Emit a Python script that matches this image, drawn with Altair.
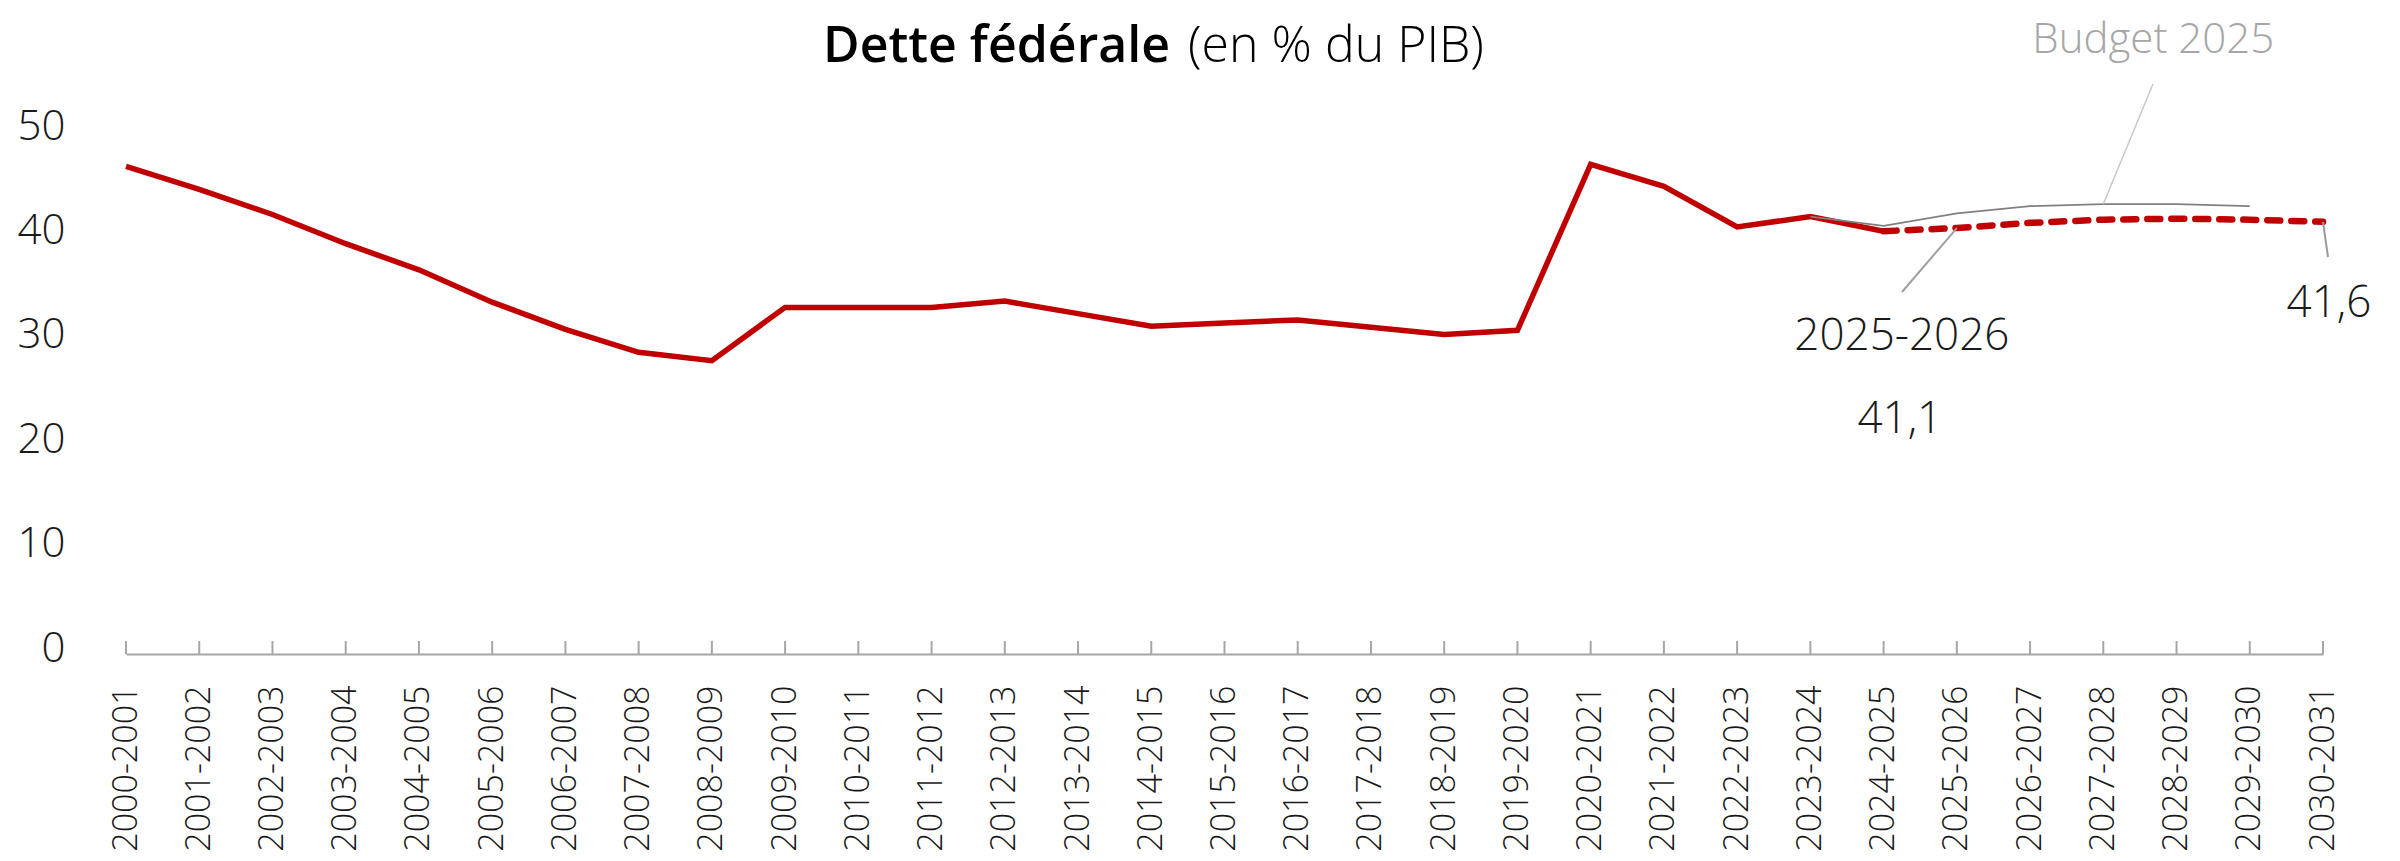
import altair as alt
import pandas as pd

categories = ["2000-2001", "2001-2002", "2002-2003", "2003-2004", "2004-2005",
              "2005-2006", "2006-2007", "2007-2008", "2008-2009", "2009-2010",
              "2010-2011", "2011-2012", "2012-2013", "2013-2014", "2014-2015",
              "2015-2016", "2016-2017", "2017-2018", "2018-2019", "2019-2020",
              "2020-2021", "2021-2022", "2022-2023", "2023-2024", "2024-2025",
              "2025-2026", "2026-2027", "2027-2028", "2028-2029", "2029-2030",
              "2030-2031"]

actual_years = categories[0:25]
actual_values = [46.7, 44.5, 42.1, 39.3, 36.8, 33.7, 31.1, 28.9, 28.1, 33.2,
                 33.2, 33.2, 33.8, 32.6, 31.4, 31.7, 32.0, 31.3, 30.6, 31.0,
                 46.9, 44.8, 40.9, 41.9, 40.5]

proj_years = categories[24:31]
proj_values = [40.5, 40.8, 41.3, 41.6, 41.7, 41.6, 41.4]

budget_years = categories[23:30]
budget_values = [41.9, 41.0, 42.2, 42.9, 43.1, 43.1, 42.9]

y_ticks = [0, 10, 20, 30, 40, 50]

FONT = "Open Sans"
RED = "#C00000"
W, H = 2197, 522

df_actual = pd.DataFrame({"cat": actual_years, "val": actual_values})
df_proj = pd.DataFrame({"cat": proj_years, "val": proj_values})
df_budget = pd.DataFrame({"cat": budget_years, "val": budget_values})
df_cats = pd.DataFrame({"cat": categories})

xs = alt.X("cat:N", sort=categories,
           scale=alt.Scale(type="point", padding=0),
           axis=alt.Axis(title=None, labelAngle=-90, labelFontSize=34,
                         labelFont=FONT, labelColor="#1a1a1a", labelPadding=31,
                         ticks=False, domainColor="#a6a6a6", domainWidth=2,
                         labelFontWeight=300))
ys = alt.Y("val:Q", scale=alt.Scale(domain=[0, 50], nice=False),
           axis=alt.Axis(title=None, values=y_ticks, grid=False, domain=False,
                         ticks=False, labelFontSize=42, labelFont=FONT,
                         labelColor="#1a1a1a", labelPadding=61, labelOffset=-6,
                         labelFontWeight=300))

ticks = alt.Chart(df_cats).mark_rule(color="#a6a6a6", strokeWidth=2).encode(
    x=alt.X("cat:N", sort=categories), y=alt.value(H), y2=alt.value(H - 13))

line_actual = alt.Chart(df_actual).mark_line(
    color=RED, strokeWidth=5.5, strokeJoin="miter").encode(x=xs, y=ys)

line_proj = alt.Chart(df_proj).mark_line(
    color=RED, strokeWidth=6.5, strokeDash=[13, 11], strokeCap="round").encode(
    x=alt.X("cat:N", sort=categories), y="val:Q")

line_budget = alt.Chart(df_budget).mark_line(
    color="#808080", strokeWidth=1.8).encode(
    x=alt.X("cat:N", sort=categories), y="val:Q")

# annotations anchored on data points
ann_budget = pd.DataFrame({"cat": ["2027-2028"], "val": [43.1], "t": ["Budget 2025"]})
ann_2526 = pd.DataFrame({"cat": ["2025-2026"], "val": [40.8], "t": ["2025-2026"]})
ann_411 = pd.DataFrame({"cat": ["2025-2026"], "val": [40.8], "t": ["41,1"]})
ann_416 = pd.DataFrame({"cat": ["2030-2031"], "val": [41.4], "t": ["41,6"]})

enc = dict(x=alt.X("cat:N", sort=categories), y="val:Q", text="t:N")

leader_budget = alt.Chart(ann_budget).mark_rule(color="#c8c8c8", strokeWidth=1.5).encode(
    x=alt.X("cat:N", sort=categories), y="val:Q", x2=alt.value(2027), y2=alt.value(-48))
leader_2526 = alt.Chart(ann_2526).mark_rule(color="#a0a0a0", strokeWidth=2).encode(
    x=alt.X("cat:N", sort=categories), y="val:Q", x2=alt.value(1776), y2=alt.value(160))
leader_416 = alt.Chart(ann_416).mark_rule(color="#999999", strokeWidth=2).encode(
    x=alt.X("cat:N", sort=categories), y="val:Q", x2=alt.value(2202), y2=alt.value(125))

txt_budget = alt.Chart(ann_budget).mark_text(
    font=FONT, fontSize=42, color="#a6a6a6", fontWeight=300, align="center",
    baseline="alphabetic", dx=50, dy=-151).encode(**enc)
txt_2526 = alt.Chart(ann_2526).mark_text(
    font=FONT, fontSize=44, color="#1a1a1a", fontWeight=300, align="center",
    baseline="alphabetic", dx=-55, dy=122).encode(**enc)
txt_411 = alt.Chart(ann_411).mark_text(
    font=FONT, fontSize=44, color="#1a1a1a", fontWeight=300, align="center",
    baseline="alphabetic", dx=-57, dy=205).encode(**enc)
txt_416 = alt.Chart(ann_416).mark_text(
    font=FONT, fontSize=44, color="#1a1a1a", fontWeight=300, align="center",
    baseline="alphabetic", dx=6, dy=95).encode(**enc)

title_bold = alt.Chart(pd.DataFrame({"t": ["Dette fédérale"]})).mark_text(
    font=FONT, fontSize=50, fontWeight=600, color="#000000", align="right",
    baseline="alphabetic").encode(text="t:N", x=alt.value(1044), y=alt.value(-70))
title_light = alt.Chart(pd.DataFrame({"t": ["(en % du PIB)"]})).mark_text(
    font=FONT, fontSize=50, fontWeight=300, color="#000000", align="left",
    baseline="alphabetic").encode(text="t:N", x=alt.value(1062), y=alt.value(-70))

chart = alt.layer(
    ticks, line_actual, line_proj, line_budget,
    leader_budget, leader_2526, leader_416,
    txt_budget, txt_2526, txt_411, txt_416,
    title_bold, title_light
).properties(
    width=W, height=H,
    autosize=alt.AutoSizeParams(type="none"),
    padding={"left": 118, "top": 124, "right": 69, "bottom": 199},
).configure(background="white").configure_view(stroke=None, strokeWidth=0)

chart.save("out.html", embed_options={"renderer": "svg", "actions": False})
